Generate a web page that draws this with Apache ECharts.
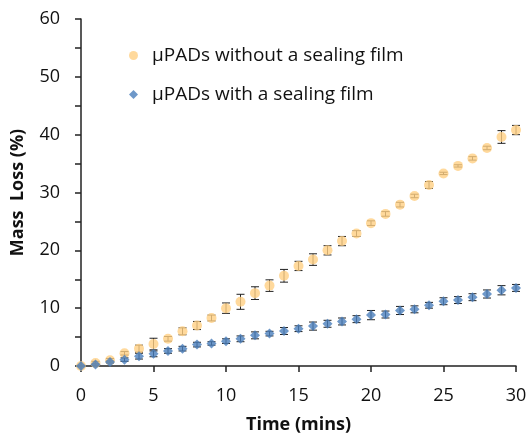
<!DOCTYPE html>
<html>
<head>
<meta charset="utf-8">
<script src="https://cdn.jsdelivr.net/npm/echarts@6/dist/echarts.min.js"></script>
<style>html,body{margin:0;padding:0;background:#fff}#c{width:528px;height:437px}</style>
</head>
<body>
<div id="c"></div>
<script>
var times = [0,1,2,3,4,5,6,7,8,9,10,11,12,13,14,15,16,17,18,19,20,21,22,23,24,25,26,27,28,29,30];
var noFilm = [0,0.5,1.0,2.2,3.0,3.8,4.7,6.0,7.0,8.3,10.0,11.1,12.6,13.9,15.6,17.3,18.4,20.0,21.6,22.9,24.7,26.3,27.9,29.4,31.3,33.3,34.6,35.9,37.7,39.6,40.8];
var noFilmErr = [0.1,0.3,0.3,0.3,0.6,1.0,0.4,0.6,0.7,0.5,0.9,1.3,1.1,1.0,1.1,0.8,1.0,0.8,0.8,0.5,0.4,0.4,0.4,0.3,0.6,0.2,0.2,0.3,0.3,1.1,0.8];
var withFilm = [0,0.25,0.7,1.1,1.7,2.1,2.6,3.0,3.7,3.9,4.3,4.7,5.3,5.6,6.05,6.45,6.9,7.3,7.7,8.1,8.8,8.9,9.6,9.8,10.5,11.2,11.4,11.9,12.45,13.1,13.5];
var withFilmErr = [0.1,0.2,0.2,0.3,0.5,0.5,0.4,0.4,0.4,0.3,0.4,0.5,0.6,0.4,0.6,0.5,0.7,0.6,0.6,0.6,0.8,0.6,0.7,0.6,0.5,0.6,0.6,0.6,0.7,0.8,0.6];
var seriesNames = ['\u00b5PADs without a sealing film', '\u00b5PADs with a sealing film'];
var xTitle = 'Time (mins)';
var yTitle = 'Mass  Loss (%)';

function pairs(v){ return times.map(function(t,i){ return [t, v[i]]; }); }
function errData(v,e){ return times.map(function(t,i){ return [t, v[i]-e[i], v[i]+e[i]]; }); }
function errSeries(v,e){
  return {
    type:'custom', silent:true, z:1,
    data: errData(v,e),
    renderItem: function(params, api){
      var lo = api.coord([api.value(0), api.value(1)]);
      var hi = api.coord([api.value(0), api.value(2)]);
      var w = 4;
      var st = {stroke:'#222', lineWidth:1};
      return {type:'group', children:[
        {type:'line', shape:{x1:lo[0],y1:lo[1],x2:hi[0],y2:hi[1]}, style:st},
        {type:'line', shape:{x1:lo[0]-w,y1:lo[1],x2:lo[0]+w,y2:lo[1]}, style:st},
        {type:'line', shape:{x1:hi[0]-w,y1:hi[1],x2:hi[0]+w,y2:hi[1]}, style:st}
      ]};
    }
  };
}
var chart = echarts.init(document.getElementById('c'));
var font = 'Open Sans';
chart.setOption({
  animation:false,
  grid:{left:81, right:12, top:19, bottom:71, containLabel:false, outerBoundsMode:'none'},
  legend:{
    left:124, top:40, orient:'vertical', itemGap:18, itemWidth:9, itemHeight:9,
    textStyle:{fontFamily:font, fontSize:19, lineHeight:21, color:'#111', padding:[0,0,0,9]},
    data:[{name:seriesNames[0], icon:'circle'},{name:seriesNames[1], icon:'diamond'}]
  },
  xAxis:{
    type:'value', min:0, max:30, interval:5,
    name:xTitle, nameLocation:'middle', nameGap:50,
    nameTextStyle:{fontFamily:font, fontSize:18, fontWeight:'bold', color:'#111'},
    axisLine:{onZero:false, lineStyle:{color:'#222', width:1.5}},
    axisTick:{show:true, length:6, inside:false, lineStyle:{color:'#222', width:1.5}},
    axisLabel:{fontFamily:font, fontSize:18, color:'#111', margin:21},
    splitLine:{show:false}
  },
  yAxis:{
    type:'value', min:0, max:60, interval:5,
    name:yTitle, nameLocation:'middle', nameGap:54, nameRotate:90,
    nameTextStyle:{fontFamily:font, fontSize:18, fontWeight:'bold', color:'#111'},
    axisLine:{show:true, lineStyle:{color:'#222', width:1.5}},
    axisTick:{show:true, length:6, lineStyle:{color:'#222', width:1.5}},
    axisLabel:{fontFamily:font, fontSize:18, color:'#111', margin:21,
      formatter:function(v){ return v % 10 === 0 ? String(v) : ''; }},
    splitLine:{show:false}
  },
  series:[
    errSeries(noFilm, noFilmErr),
    errSeries(withFilm, withFilmErr),
    {name:seriesNames[0], type:'scatter', symbol:'circle', symbolSize:10, z:3,
     itemStyle:{color:'#FFD083'}, data:pairs(noFilm)},
    {name:seriesNames[1], type:'scatter', symbol:'diamond', symbolSize:10, z:4,
     itemStyle:{color:'#4A7EBB'}, data:pairs(withFilm)}
  ]
});
</script>
</body>
</html>
